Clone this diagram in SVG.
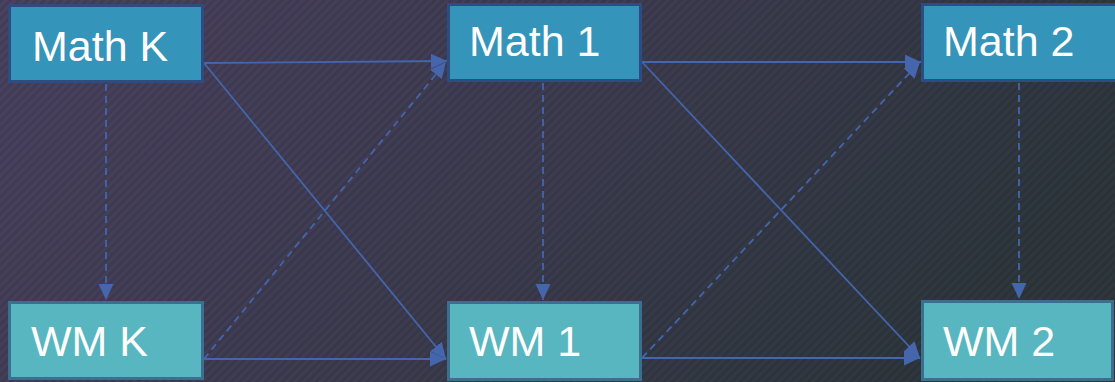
<svg xmlns="http://www.w3.org/2000/svg" width="1115" height="382" viewBox="0 0 1115 382">
  <defs>
    <linearGradient id="bg" x1="0" y1="0" x2="1" y2="0.3">
      <stop offset="0" stop-color="#4a4260"/>
      <stop offset="0.55" stop-color="#3d3c50"/>
      <stop offset="1" stop-color="#2e373e"/>
    </linearGradient>
    <pattern id="hatch" width="6" height="6" patternUnits="userSpaceOnUse" patternTransform="rotate(45)">
      <rect x="0" y="0" width="3" height="6" fill="#000" fill-opacity="0.09"/>
    </pattern>
    <marker id="arrow" markerUnits="userSpaceOnUse" markerWidth="18" markerHeight="18" viewBox="0 0 18 18" refX="16" refY="9" orient="auto">
      <path d="M0,1.5 L16,9 L0,16.5 Z" fill="#4565ad"/>
    </marker>
    <style>
      .math rect { fill: #3494b9; stroke: #2d4c82; stroke-width: 3; }
      .wm rect { fill: #57b6bf; stroke: #3c6e90; stroke-width: 3; }
      .node text { font-family: "Liberation Sans", Arial, sans-serif; font-size: 43px; fill: #ffffff; }
      .edge { stroke: #4565ad; stroke-width: 1.8; fill: none; marker-end: url(#arrow); }
      .dash { stroke-dasharray: 7 5; }
    </style>
  </defs>

  <!-- background -->
  <rect x="0" y="0" width="1115" height="382" fill="url(#bg)"/>
  <rect x="0" y="0" width="1115" height="382" fill="url(#hatch)"/>

  <!-- connectors -->
  <g id="connectors">
    <line class="edge dash" x1="106" y1="84" x2="106" y2="300"/>
    <line class="edge" x1="204" y1="63" x2="447" y2="61"/>
    <line class="edge" x1="204" y1="63" x2="446" y2="359"/>
    <line class="edge dash" x1="204" y1="359" x2="446" y2="62"/>
    <line class="edge" x1="204" y1="359" x2="446" y2="359"/>
    <line class="edge dash" x1="543" y1="83" x2="543" y2="300"/>
    <line class="edge" x1="642" y1="62" x2="921" y2="62"/>
    <line class="edge" x1="642" y1="62" x2="920" y2="358"/>
    <line class="edge dash" x1="642" y1="358" x2="920" y2="62"/>
    <line class="edge" x1="642" y1="358" x2="920" y2="358"/>
    <line class="edge dash" x1="1019" y1="83" x2="1019" y2="299"/>
  </g>

  <!-- nodes -->
  <g id="math-k" class="node math">
    <rect x="9.5" y="5.5" width="193" height="76"/>
    <text x="32" y="61">Math K</text>
  </g>
  <g id="wm-k" class="node wm">
    <rect x="9.5" y="302.5" width="193" height="76"/>
    <text x="31" y="356">WM K</text>
  </g>
  <g id="math-1" class="node math">
    <rect x="448.5" y="4.5" width="192" height="76"/>
    <text x="469" y="56">Math 1</text>
  </g>
  <g id="wm-1" class="node wm">
    <rect x="448.5" y="302.5" width="192" height="77"/>
    <text x="469" y="356">WM 1</text>
  </g>
  <g id="math-2" class="node math">
    <rect x="922.5" y="4.5" width="194" height="76"/>
    <text x="943" y="56">Math 2</text>
  </g>
  <g id="wm-2" class="node wm">
    <rect x="922.5" y="301.5" width="190" height="78"/>
    <text x="943" y="356">WM 2</text>
  </g>
</svg>
